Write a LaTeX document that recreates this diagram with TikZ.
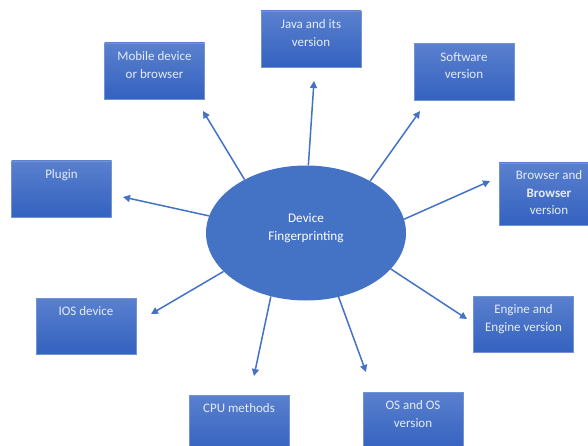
\documentclass[tikz,border=0pt]{standalone}
\usepackage{fontspec}
\setmainfont{Carlito}
\usetikzlibrary{shapes.geometric,arrows.meta}
\definecolor{accent}{HTML}{4472C4}
\definecolor{boxtop}{HTML}{5A80CE}
\definecolor{boxbot}{HTML}{3462C0}
\definecolor{txtc}{HTML}{E6ECF8}
\tikzset{
  box/.style={rectangle, top color=boxtop, bottom color=boxbot, draw=boxtop!85!white, line width=0.5pt,
    minimum width=100pt, minimum height=56pt, inner sep=0pt},
  txt/.style={anchor=north, yshift=-9pt, align=center, text=txtc, font=\fontsize{13}{17.5}\selectfont, inner sep=0pt},
  hub/.style={ellipse, fill=accent, minimum width=200pt, minimum height=135pt, inner sep=0pt},
  hubtxt/.style={anchor=center, yshift=5pt, text=white, align=center, font=\fontsize{13.2}{18}\selectfont, inner sep=0pt},
  conn/.style={draw=accent, line width=1.5pt, -{Triangle[length=7pt,width=7pt]}}
}
\begin{document}
\begin{tikzpicture}[x=1pt,y=-1pt]
\clip (0,0) rectangle (588,446);
\fill[white] (0,0) rectangle (588,446);
% boxes
\node[box, label={[txt]north:Mobile device\\or browser}] (mob) at (154.5,71) {};
\node[box, label={[txt]north:Java and its\\version}] (java) at (311,39) {};
\node[box, minimum height=57pt, label={[txt]north:Software\\version}] (soft) at (464,72) {};
\node[box, minimum height=62pt, label={[txt,yshift=1pt]north:Browser and\\\textbf{Browser}\\version}] (brow) at (549,194) {};
\node[box, label={[txt]north:Plugin}] (plug) at (61.5,189) {};
\node[box, label={[txt]north:IOS device}] (ios) at (86,326) {};
\node[box, label={[txt]north:Engine and\\Engine version}] (eng) at (523.5,324) {};
\node[box, minimum height=58pt, label={[txt]north:CPU methods}] (cpu) at (239,424) {};
\node[box, minimum height=58pt, label={[txt]north:OS and OS\\version}] (os) at (413,421) {};
% hub
\node[hub, label={[hubtxt]center:Device\\Fingerprinting}] (dev) at (306,233) {};
% arrow tips
\coordinate (tmob) at (203,111);
\coordinate (tjava) at (314,81);
\coordinate (tsoft) at (420,111);
\coordinate (tbrow) at (490,181);
\coordinate (teng) at (467,319);
\coordinate (tos) at (366,372);
\coordinate (tcpu) at (254,376);
\coordinate (tios) at (151,314);
\coordinate (tplug) at (123,197);
\draw[conn] (dev.139) -- (tmob);
\draw[conn] (dev.88) -- (tjava);
\draw[conn] (dev.39) -- (tsoft);
\draw[conn] (dev.8) -- (tbrow);
\draw[conn] (dev.-23) -- (teng);
\draw[conn] (dev.-63) -- (tos);
\draw[conn] (dev.-119) -- (tcpu);
\draw[conn] (dev.-155) -- (tios);
\draw[conn] (dev.170) -- (tplug);
\end{tikzpicture}
\end{document}
